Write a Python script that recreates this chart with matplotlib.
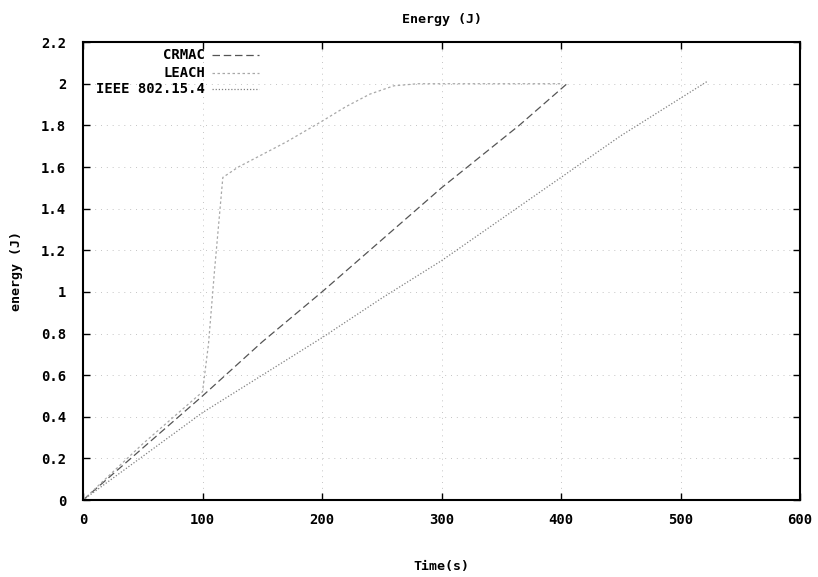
import numpy as np
import matplotlib
matplotlib.use('Agg')
import matplotlib.pyplot as plt

# ---------------- data ----------------
crmac_t = [0, 50, 100, 150, 200, 250, 300, 365, 405]
crmac_e = [0, 0.25, 0.50, 0.76, 1.00, 1.25, 1.50, 1.80, 2.00]

leach_t = [0, 50, 100, 105, 110, 117, 130, 150, 170, 200, 220, 240, 260, 280, 340, 400]
leach_e = [0, 0.27, 0.52, 0.75, 1.10, 1.55, 1.60, 1.66, 1.72, 1.82, 1.89, 1.95, 1.99, 2.00, 2.00, 2.00]

ieee_t = [0, 50, 100, 150, 200, 250, 300, 350, 400, 450, 522]
ieee_e = [0, 0.21, 0.42, 0.60, 0.78, 0.97, 1.15, 1.35, 1.55, 1.75, 2.01]

series_names = ['CRMAC', 'LEACH', 'IEEE 802.15.4']
x_ticks = [0, 100, 200, 300, 400, 500, 600]
y_ticks = [0, 0.2, 0.4, 0.6, 0.8, 1, 1.2, 1.4, 1.6, 1.8, 2, 2.2]
y_tick_labels = ['0', '0.2', '0.4', '0.6', '0.8', '1', '1.2', '1.4', '1.6', '1.8', '2', '2.2']

# ---------------- figure layout ----------------
plt.rcParams['font.family'] = ['DejaVu Sans Mono']
plt.rcParams['font.weight'] = 'bold'

fig = plt.figure(figsize=(8.18, 5.77), dpi=100)
ax = fig.add_axes([0.1015, 0.1334, 0.8765, 0.7936])
ax.set_xlim(0, 600)
ax.set_ylim(0, 2.2)

ax.set_xticks(x_ticks)
ax.set_xticklabels([str(v) for v in x_ticks])
ax.set_yticks(y_ticks)
ax.set_yticklabels(y_tick_labels)
ax.tick_params(direction='in', length=5, width=1, top=True, right=True,
               labelsize=10)
ax.tick_params(axis='x', pad=9)
ax.tick_params(axis='y', pad=12)
for lab in ax.get_xticklabels() + ax.get_yticklabels():
    lab.set_fontweight('bold')
for s in ax.spines.values():
    s.set_linewidth(1.5)

ax.grid(True, color='#c4c4c4', linestyle=(0, (1, 5)), linewidth=0.7)
ax.set_axisbelow(True)

ax.set_title('Energy (J)', fontsize=9.5, fontweight='bold', pad=14)
ax.set_xlabel('Time(s)', fontsize=9.5, fontweight='bold', labelpad=24)
ax.set_ylabel('energy (J)', fontsize=9.5, fontweight='bold', labelpad=13)

# ---------------- data ----------------
styles = [dict(color='#555555', linestyle=(0, (6, 3)), linewidth=0.9),
          dict(color='#a8a8a8', linestyle=(0, (2, 2)), linewidth=0.9),
          dict(color='#808080', linestyle=(0, (1, 1.5)), linewidth=0.9)]
ax.plot(crmac_t, crmac_e, **styles[0])
ax.plot(leach_t, leach_e, **styles[1])
ax.plot(ieee_t, ieee_e, **styles[2])

# ---------------- gnuplot-style key (right aligned labels) ----------------
key_y = [0.972, 0.932, 0.897]
for name, yy, st in zip(series_names, key_y, styles):
    ax.text(0.170, yy, name, transform=ax.transAxes, ha='right', va='center',
            fontsize=10, fontweight='bold')
    ax.plot([0.180, 0.245], [yy, yy], transform=ax.transAxes, **st)

plt.savefig('out.png', dpi=100)
